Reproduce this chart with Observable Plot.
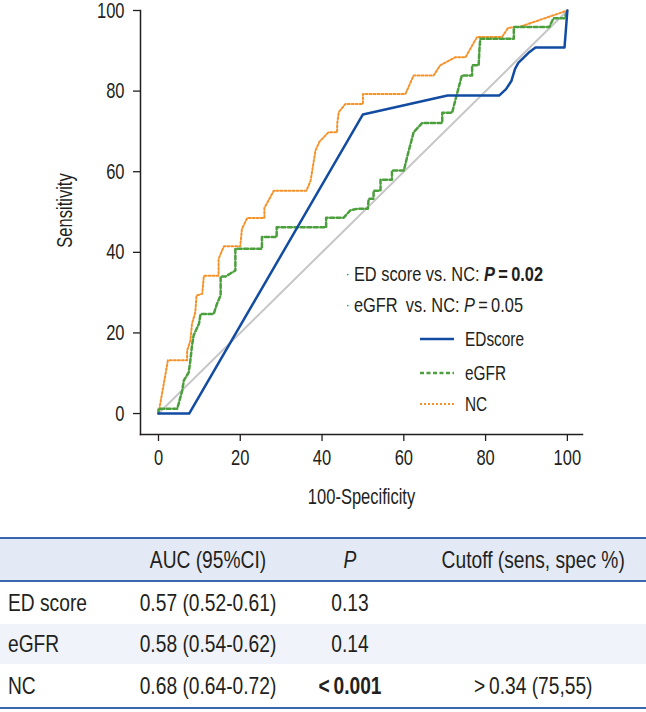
<!DOCTYPE html>
<html>
<head>
<meta charset="utf-8">
<script src="https://cdn.jsdelivr.net/npm/d3@7"></script>
<script src="https://cdn.jsdelivr.net/npm/@observablehq/plot@0.6"></script>
<style>
  body { margin: 0; background: #fff; }
  #wrap { position: relative; width: 646px; height: 712px; overflow: hidden; font-family: "Liberation Sans", Arial, sans-serif; color: #231f20; }
  .txt { position: absolute; white-space: nowrap; line-height: 1; transform-origin: left center; }
  .legline { position: absolute; }
  table { position: absolute; left: 0; top: 537px; width: 808px; border-collapse: collapse; font-size: 24px; transform: scaleX(0.8); transform-origin: left top; table-layout: fixed; }
  th { font-weight: normal; background: #e3e9f5; height: 41px; border-top: 2px solid #3a66b0; border-bottom: 2px solid #3a66b0; padding: 0; white-space: nowrap; }
  td { padding: 0; white-space: nowrap; }
  tr.alt td { background: #f0f3f9; }
  tbody tr:last-child td { border-bottom: 2px solid #3a66b0; }
</style>
</head>
<body>
<div id="wrap"></div>
<script>
// ---- data ----
const xTicks = [0, 20, 40, 60, 80, 100];
const yTicks = [0, 20, 40, 60, 80, 100];
const refX = [0, 100];
const refY = [0, 100];
const edX = [0, 7.5, 50, 70.7, 83.3, 85, 86.3, 87.2, 88, 90.5, 92.2, 99.3, 100];
const edY = [0, 0, 74.2, 78.9, 78.9, 80.5, 82.5, 85.5, 87, 89.5, 90.8, 90.8, 100];
const egfrX = [0, 0, 4.6, 5.8, 6.2, 7.4, 7.8, 8.2, 8.6, 9.9, 10.3, 13.5, 14.3, 15.2, 15.2, 16.4, 18.8, 18.8, 25.3, 25.3, 28.9, 28.9, 41, 41, 45.3, 46.9, 48.6, 51.2, 51.4, 52.6, 52.6, 54.3, 54.3, 57.1, 57.1, 60, 60.8, 61.6, 62.4, 64.5, 69.4, 69.4, 71.8, 73, 74.2, 76.7, 76.7, 78.3, 78.5, 78.7, 86.9, 86.9, 95.6, 96.6, 99.3, 100];
const egfrY = [0, 1.2, 1.2, 5.7, 8.2, 10.2, 13.2, 16.9, 19.4, 22.3, 24.7, 24.7, 27.2, 29.3, 34, 34, 35.5, 40.9, 40.9, 43.8, 43.8, 46.2, 46.2, 48.6, 48.6, 50.4, 50.8, 50.8, 53.3, 53.3, 55.3, 55.3, 58, 58, 60.3, 60.3, 63.6, 66.7, 69.8, 72.1, 72.1, 74.6, 74.6, 79.3, 83.9, 83.9, 86.4, 86.4, 90.5, 93, 93, 95.9, 95.9, 98.1, 98.1, 100];
const ncX = [0, 2.3, 7, 7, 7.8, 8.2, 9, 9.3, 10.7, 11.1, 14.7, 14.7, 16, 20, 20.4, 21.7, 25.9, 25.9, 28.2, 36.2, 37.2, 38, 38.4, 39.4, 41.6, 43.7, 43.7, 44.1, 45.7, 50, 50, 60.4, 62.4, 67.3, 68.9, 72.6, 75.1, 77.9, 84, 85.5, 88.5, 100];
const ncY = [0, 13.2, 13.2, 15.6, 18.1, 22.3, 25.1, 29.3, 29.7, 34.2, 34.2, 38.4, 41.5, 41.5, 45.8, 48.5, 48.5, 51, 55.3, 55.3, 57.8, 62.8, 65.3, 67.5, 69.8, 69.8, 71.9, 74.8, 76.8, 76.8, 79.3, 79.3, 83.9, 83.9, 86.4, 88.4, 88.4, 93.4, 93.4, 95.7, 96, 100];
const seriesNames = ["EDscore", "eGFR", "NC"];
const annotations = ["ED score vs. NC:", "eGFR\u2002vs. NC:"];
const annPValues = ["0.02", "0.05"];
const tableHeader = ["", "AUC (95%CI)", "P", "Cutoff (sens, spec %)"];
const rowLabels = ["ED score", "eGFR", "NC"];
const aucValues = ["0.57 (0.52-0.61)", "0.58 (0.54-0.62)", "0.68 (0.64-0.72)"];
const pValues = ["0.13", "0.14", "<\u20090.001"];
const cutoffValues = ["", "", ">\u20090.34 (75,55)"];

const zip = (xs, ys) => xs.map((x, i) => ({x, y: ys[i]}));
const colors = {EDscore: "#124ca2", eGFR: "#4b9f3c", NC: "#f5922a"};
const dashes = {EDscore: null, eGFR: "4,2.5", NC: "2,2"};
const widths = {EDscore: 2.5, eGFR: 2.5, NC: 2};

const font = '"Liberation Sans", Arial, sans-serif';
const chart = Plot.plot({
  width: 646, height: 520,
  marginLeft: 140, marginRight: 64, marginTop: 10, marginBottom: 86,
  x: {domain: [-4.4, 103.7]},
  y: {domain: [-5.2, 100]},
  style: {fontFamily: font, fontSize: "22px", color: "#231f20", background: "transparent", overflow: "visible"},
  marks: [
    Plot.frame({anchor: "left", stroke: "#231f20", strokeWidth: 1.5}),
    Plot.frame({anchor: "bottom", stroke: "#231f20", strokeWidth: 1.5}),
    Plot.axisY({ticks: yTicks, tickSize: 7, tickPadding: 9, label: null, strokeWidth: 1.3}),
    Plot.axisX({ticks: xTicks, tickSize: 7, tickPadding: 8, label: null, strokeWidth: 1.3}),
    Plot.line(zip(refX, refY), {x: "x", y: "y", stroke: "#c6c6c6", strokeWidth: 2}),
    Plot.line(zip(ncX, ncY), {x: "x", y: "y", stroke: colors.NC, strokeWidth: widths.NC, strokeDasharray: dashes.NC}),
    Plot.line(zip(egfrX, egfrY), {x: "x", y: "y", stroke: colors.eGFR, strokeWidth: widths.eGFR, strokeDasharray: dashes.eGFR}),
    Plot.line(zip(edX, edY), {x: "x", y: "y", stroke: colors.EDscore, strokeWidth: widths.EDscore}),
    Plot.text(["Sensitivity"], {frameAnchor: "left", rotate: -90, textAnchor: "middle", lineAnchor: "middle", dx: -76, dy: -12, fontSize: 22}),
    Plot.text(["100-Specificity"], {frameAnchor: "bottom", textAnchor: "middle", lineAnchor: "middle", dy: 62, fontSize: 22})
  ]
});

const wrap = document.getElementById("wrap");
chart.style.position = "absolute";
chart.style.left = "0px";
chart.style.top = "0px";
wrap.appendChild(chart);

// condense SVG text horizontally (the reference uses a condensed face)
chart.querySelectorAll("text").forEach(t => {
  const len = t.getComputedTextLength();
  if (len > 0) {
    t.setAttribute("textLength", (len * 0.75).toFixed(2));
    t.setAttribute("lengthAdjust", "spacingAndGlyphs");
  }
});

// annotations
const annTop = [263, 294];
annotations.forEach((a, i) => {
  const d = document.createElement("div");
  d.className = "txt";
  d.style.fontSize = "21px";
  d.style.transform = "scaleX(0.78)";
  d.style.left = "346px";
  d.style.top = annTop[i] + "px";
  const pStyle = i === 0 ? "font-weight:bold;font-style:italic" : "font-style:italic";
  const vStyle = i === 0 ? "font-weight:bold" : "";
  d.innerHTML = `<span style="font-size:13px;position:relative;top:-3px">\u00b7</span> ${a} <span style="${pStyle}">P</span><span style="${vStyle}">\u2009=\u2009${annPValues[i]}</span>`;
  wrap.appendChild(d);
});

// legend
const legTop = [339, 373, 404];
seriesNames.forEach((s, i) => {
  const l = document.createElement("div");
  l.className = "legline";
  l.style.left = "420px";
  l.style.top = (legTop[i] - 11) + "px";
  l.innerHTML = `<svg width="36" height="22"><line x1="0" x2="34" y1="11" y2="11" stroke="${colors[s]}" stroke-width="${widths[s]}" ${dashes[s] ? `stroke-dasharray="${dashes[s]}"` : ""}/></svg>`;
  wrap.appendChild(l);
  const d = document.createElement("div");
  d.className = "txt";
  d.style.fontSize = "20px";
  d.style.transform = "scaleX(0.77)";
  d.style.left = "465px";
  d.style.top = (legTop[i] - 10) + "px";
  d.textContent = s;
  wrap.appendChild(d);
});

// table
const table = document.createElement("table");
const colW = [170, 180, 175, 283];
const rowH = [43, 40, 44];
let html = "<colgroup>" + colW.map(w => `<col style="width:${w}px">`).join("") + "</colgroup><thead><tr>";
tableHeader.forEach((h, j) => {
  html += `<th style="text-align:center">${j === 2 ? `<i>${h}</i>` : h}</th>`;
});
html += "</tr></thead><tbody>";
rowLabels.forEach((r, i) => {
  html += `<tr class="${i === 1 ? "alt" : ""}" style="height:${rowH[i]}px"><td style="padding-left:10px">${r}</td><td style="text-align:center">${aucValues[i]}</td><td style="text-align:center;${i === 2 ? "font-weight:bold" : ""}">${pValues[i]}</td><td style="text-align:center">${cutoffValues[i]}</td></tr>`;
});
html += "</tbody>";
table.innerHTML = html;
wrap.appendChild(table);
</script>
</body>
</html>
